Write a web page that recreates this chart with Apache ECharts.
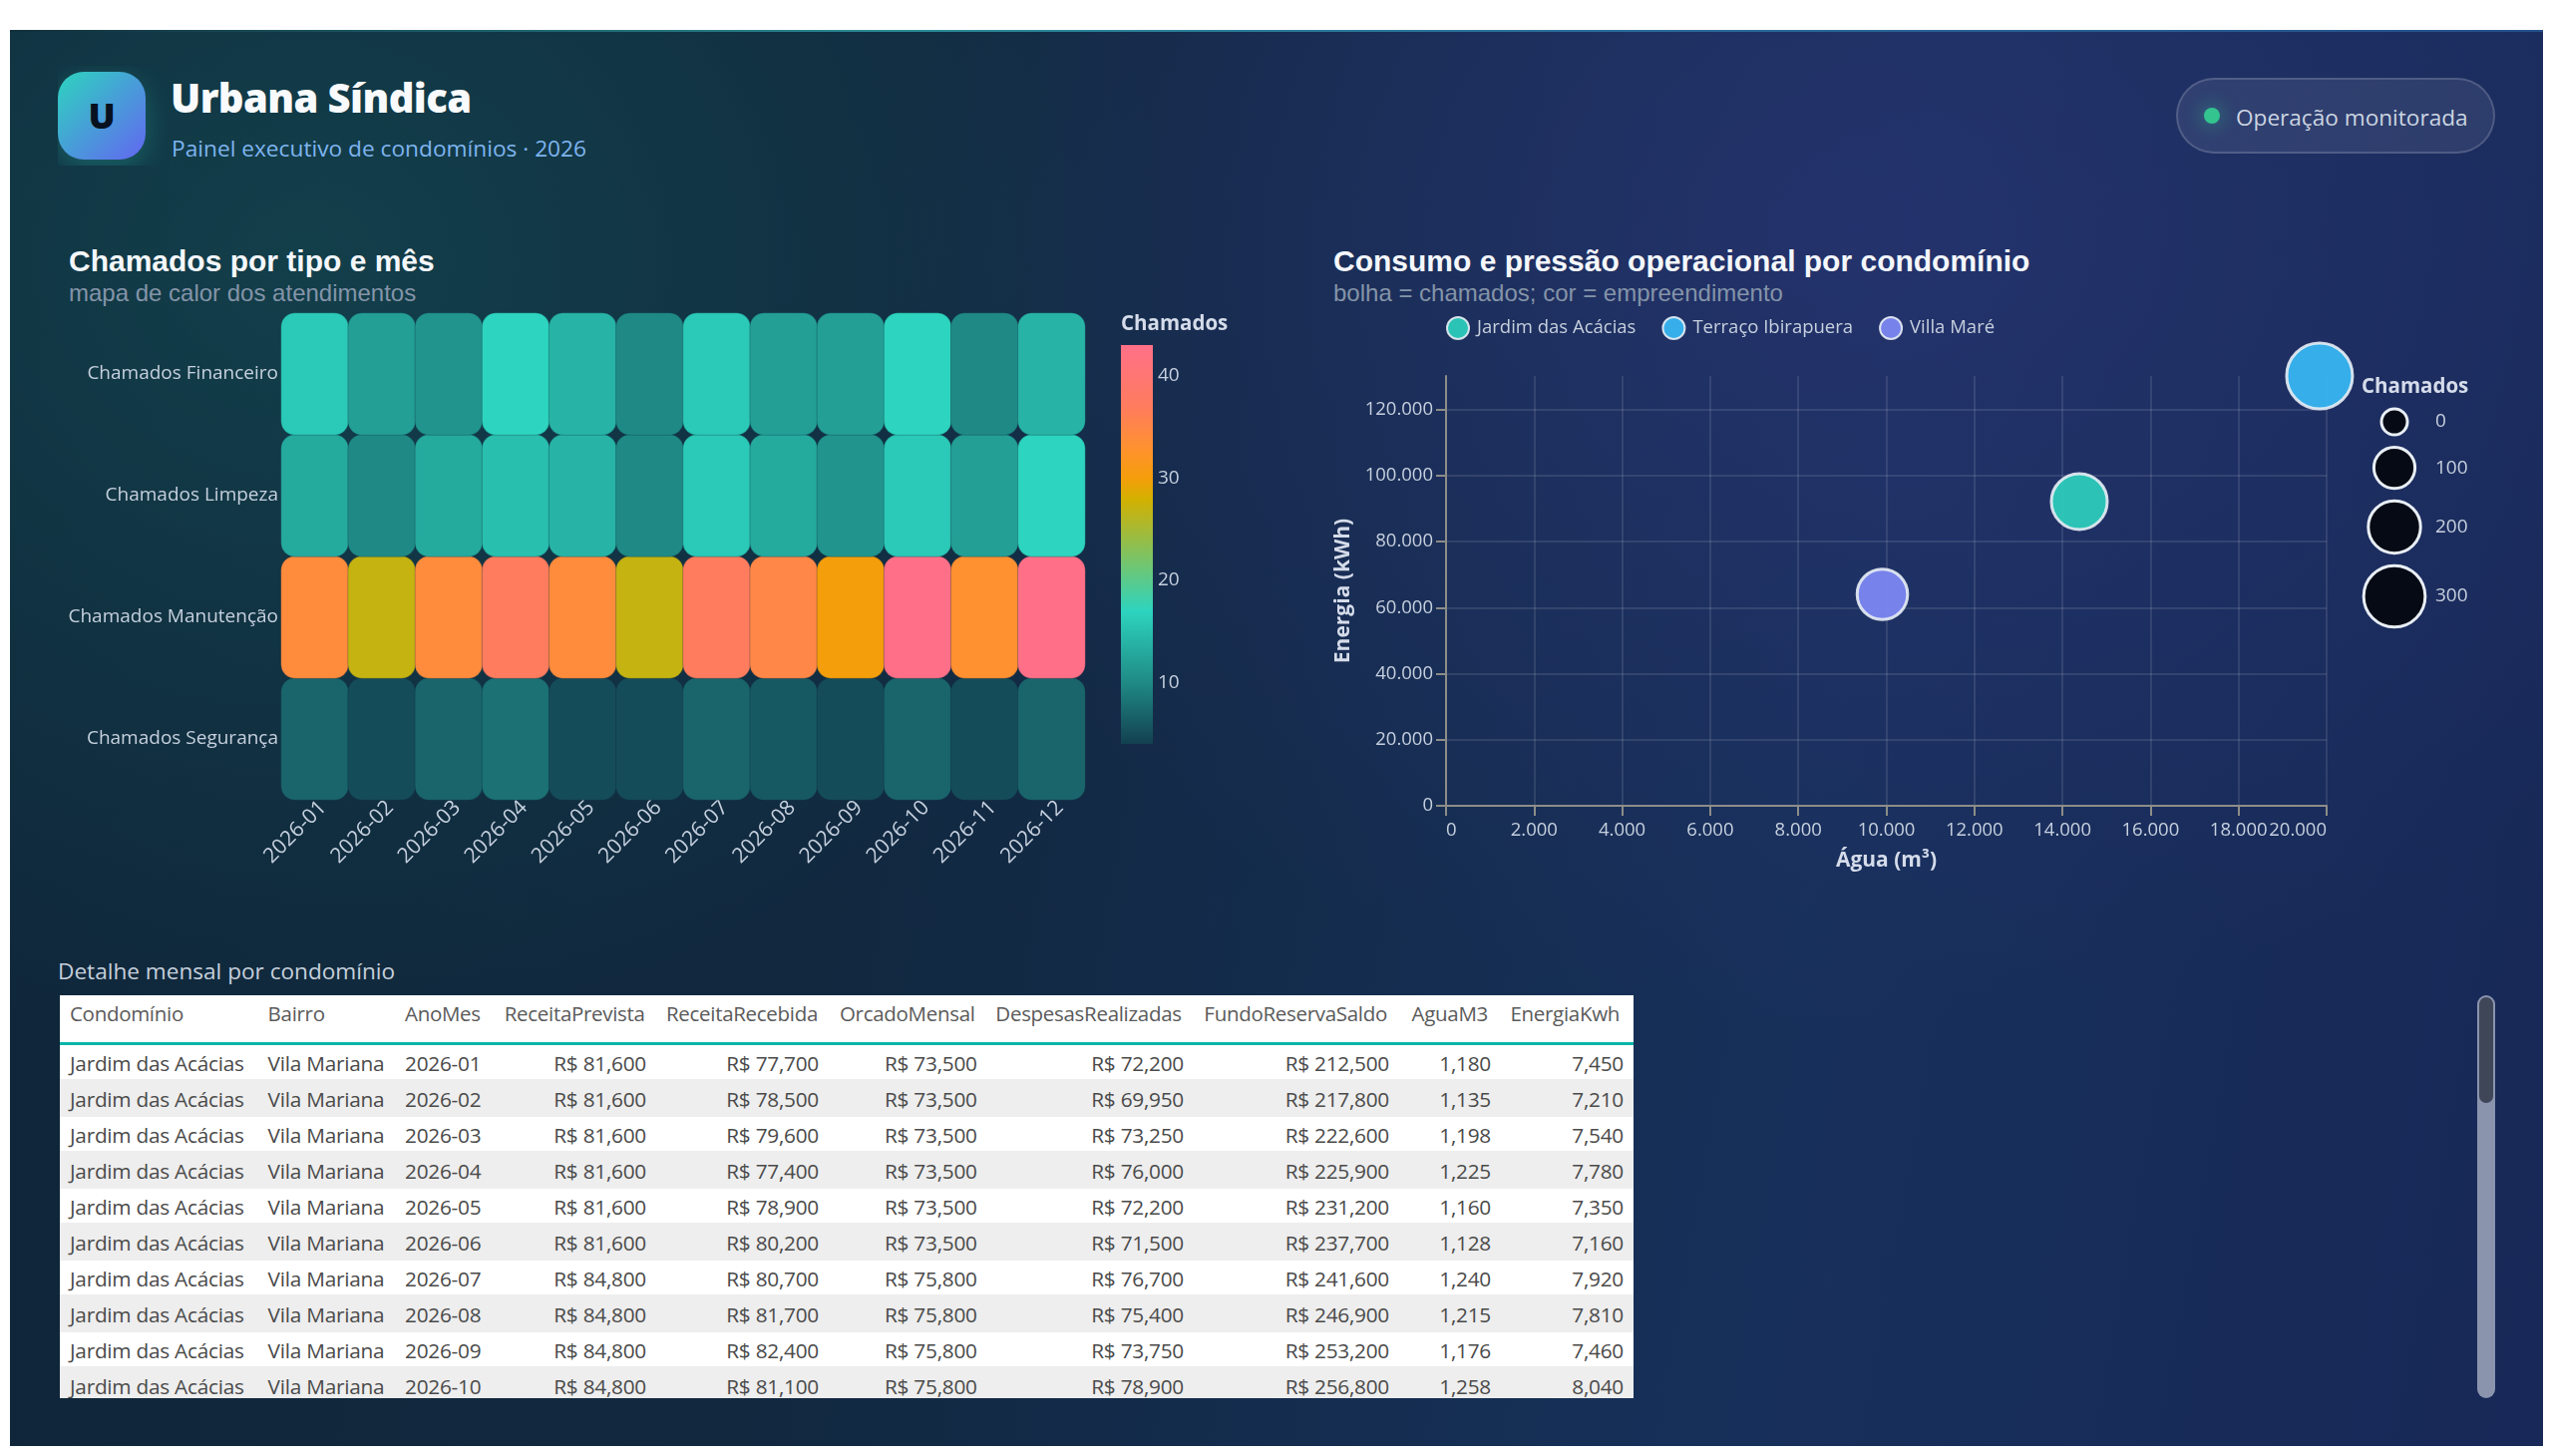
<!DOCTYPE html>
<html lang="pt-BR">
<head>
<meta charset="utf-8">
<title>Urbana Síndica</title>
<script src="https://cdn.jsdelivr.net/npm/echarts@6/dist/echarts.min.js"></script>
<style>
  html, body { margin: 0; padding: 0; background: #fff; }
  body { width: 2560px; height: 1460px; position: relative; overflow: hidden; font-family: "Open Sans", sans-serif; }
  #board { position: absolute; left: 10px; top: 30px; width: 2540px; height: 1420px; overflow: hidden;
    background:
      radial-gradient(ellipse 900px 800px at 300px 230px, rgba(20,78,84,.62), rgba(20,78,84,0) 100%),
      radial-gradient(ellipse 1000px 800px at 1850px 200px, rgba(44,52,120,.62), rgba(44,52,120,0) 100%),
      linear-gradient(100deg, #0f2639 0%, #11283f 35%, #17305a 70%, #182858 100%); }
  #accent { position: absolute; left: 0; top: 0; width: 100%; height: 2px; background: linear-gradient(90deg, #10303c 0%, #2a8a94 35%, #2a6a9a 65%, #24508a 100%); }
  .abs { position: absolute; white-space: nowrap; }
  #glow { left: 48px; top: 36px; width: 112px; height: 100px; overflow: hidden; }
  #icon { position: absolute; left: 0; top: 6px; width: 88px; height: 88px; border-radius: 26px; background: linear-gradient(135deg, #2dd4bf, #6366f1);
    box-shadow: 0 8px 28px rgba(45,212,191,.28); color: #07111f; font: 800 36px/88px "Open Sans"; text-align: center; }
  #brand { left: 161px; top: 41px; font: 800 40px/54px "Open Sans"; color: #f8fafc; letter-spacing: -.6px; }
  #sub { left: 162px; top: 101px; font: 400 22.7px/36px "Open Sans"; color: #7fb5ef; }
  #pill { left: 2172px; top: 48px; width: 316px; height: 72px; border: 2px solid rgba(255,255,255,.16); border-radius: 38px; background: rgba(255,255,255,.08); }
  #dot { position: absolute; left: 26px; top: 28px; width: 16px; height: 16px; border-radius: 50%; background: #34c48f; box-shadow: 0 0 16px 6px rgba(52,196,143,.22); }
  #pilltxt { position: absolute; left: 58px; top: 20px; font: 400 22.6px/36px "Open Sans"; color: #cbd5e1; }
  .ctitle { font: 700 30px/36px "Liberation Sans"; color: #f4f7fb; }
  .csub { font: 400 24px/30px "Liberation Sans"; color: #8494a8; }
  #chartHeat { position: absolute; left: 0; top: 280px; width: 1260px; height: 640px; }
  #chartBubble { position: absolute; left: 1260px; top: 280px; width: 1280px; height: 640px; }
  #tabletitle { left: 48px; top: 926px; font: 400 22.6px/36px "Open Sans"; color: #c6d0dc; }
  #tablebox { position: absolute; left: 50px; top: 968px; width: 1578px; height: 404px; background: #fff; overflow: hidden; }
  #tbl { position: absolute; left: 0; top: 0; }
  .c { position: absolute; font: 400 20.8px/36px "Open Sans"; color: #4a4a4a; white-space: nowrap; letter-spacing: -.25px; }
  .h { color: #5a5a5a; font-size: 20.5px; letter-spacing: -.3px; }
  .row { position: absolute; left: 0; width: 100%; height: 38px; }
  #scrolltrack { position: absolute; left: 2474px; top: 968px; width: 18px; height: 404px; border-radius: 9px; background: #8a94ad; }
  #scrollthumb { position: absolute; left: 2px; top: 2px; width: 14px; height: 106px; border-radius: 8px; background: #3e4658; }
</style>
</head>
<body>
<div id="board">
  <div id="accent"></div>
  <div class="abs" id="glow"><div id="icon">U</div></div>
  <div class="abs" id="brand">Urbana Síndica</div>
  <div class="abs" id="sub">Painel executivo de condomínios · 2026</div>
  <div class="abs" id="pill"><div id="dot"></div><div id="pilltxt">Operação monitorada</div></div>

  <div class="abs ctitle" style="left:59px;top:214px">Chamados por tipo e mês</div>
  <div class="abs csub" style="left:59px;top:249px">mapa de calor dos atendimentos</div>
  <div class="abs ctitle" style="left:1327px;top:214px">Consumo e pressão operacional por condomínio</div>
  <div class="abs csub" style="left:1327px;top:249px">bolha = chamados; cor = empreendimento</div>

  <div id="chartHeat"></div>
  <div id="chartBubble"></div>

  <div class="abs" id="tabletitle">Detalhe mensal por condomínio</div>
  <div id="tablebox"><div id="tbl"></div></div>
  <div id="scrolltrack"><div id="scrollthumb"></div></div>
</div>

<script>
// Heatmap: tickets by type and month
const months = ['2026-01','2026-02','2026-03','2026-04','2026-05','2026-06','2026-07','2026-08','2026-09','2026-10','2026-11','2026-12'];
const ticketTypes = ['Chamados Segurança','Chamados Manutenção','Chamados Limpeza','Chamados Financeiro'];
const ticketsFinanceiro = [16,12,11,17,14,10,16,12,12,17,10,14];
const ticketsLimpeza    = [13,10,13,15,14,10,16,13,11,16,12,17];
const ticketsManutencao = [34,27,34,37,34,27,37,35,30,43,33,43];
const ticketsSeguranca  = [7,5,7,8,5,5,7,6,5,7,5,7];

// Colour ramp of the heatmap: anchor values and their colours
const rampValues = [4,10,17,28,30,33,37,43];
const rampColors = ['#134050','#1f8a85','#2dd4bf','#d4b000','#f59e0b','#ff9130','#ff7c5e','#ff7088'];
const heatMin = 4, heatMax = 43;
const heatTicks = [40,30,20,10];

// Bubble chart: water, energy and tickets per condominium
const condoNames  = ['Jardim das Acácias','Terraço Ibirapuera','Villa Maré'];
const condoColors = ['#2dd4bf','#38bdf8','#818cf8'];
const condoWater  = [14383,19840,9910];
const condoEnergy = [92170,130200,64050];
const condoTickets = [237,352,182];
const sizeLegendValues = [0,100,200,300];
const energyMax = 130200;
const energyTicks = [0,20000,40000,60000,80000,100000,120000];

// Monthly detail table
const tableHeaders = ['Condomínio','Bairro','AnoMes','ReceitaPrevista','ReceitaRecebida','OrcadoMensal','DespesasRealizadas','FundoReservaSaldo','AguaM3','EnergiaKwh'];
const tableCondo   = 'Jardim das Acácias';
const tableBairro  = 'Vila Mariana';
const receitaPrevista  = [81600,81600,81600,81600,81600,81600,84800,84800,84800,84800];
const receitaRecebida  = [77700,78500,79600,77400,78900,80200,80700,81700,82400,81100];
const orcadoMensal     = [73500,73500,73500,73500,73500,73500,75800,75800,75800,75800];
const despesas         = [72200,69950,73250,76000,72200,71500,76700,75400,73750,78900];
const fundoReserva     = [212500,217800,222600,225900,231200,237700,241600,246900,253200,256800];
const aguaM3           = [1180,1135,1198,1225,1160,1128,1240,1215,1176,1258];
const energiaKwh       = [7450,7210,7540,7780,7350,7160,7920,7810,7460,8040];

const uiFont = '"Open Sans", sans-serif';
const axisText = '#c6d0de';

// Expand the anchors to one colour per integer value, since inRange colours are evenly spaced
function rampAt(v) {
  let i = 0;
  while (i < rampValues.length - 2 && v > rampValues[i + 1]) i++;
  const t = (v - rampValues[i]) / (rampValues[i + 1] - rampValues[i]);
  const a = echarts.color.parse(rampColors[i]), b = echarts.color.parse(rampColors[i + 1]);
  return 'rgb(' + [0,1,2].map(k => Math.round(a[k] + (b[k] - a[k]) * t)).join(',') + ')';
}
const heatPalette = [];
for (let v = heatMin; v <= heatMax; v++) heatPalette.push(rampAt(v));

const heatRows = [ticketsSeguranca, ticketsManutencao, ticketsLimpeza, ticketsFinanceiro];
const heatData = [];
heatRows.forEach((row, y) => row.forEach((v, x) => heatData.push([x, y, v])));

const heat = echarts.init(document.getElementById('chartHeat'));
heat.setOption({
  animation: false,
  textStyle: { fontFamily: uiFont },
  grid: { left: 272, top: 4, width: 806, height: 488 },
  xAxis: { type: 'category', data: months, axisLine: { show: false }, axisTick: { show: false }, splitLine: { show: false },
    axisLabel: { rotate: 45, interval: 0, color: axisText, fontSize: 21, margin: 13, padding: [0, -12, 0, 0], fontFamily: uiFont } },
  yAxis: { type: 'category', data: ticketTypes, axisLine: { show: false }, axisTick: { show: false }, splitLine: { show: false },
    axisLabel: { color: axisText, fontSize: 19, margin: 3, fontFamily: uiFont } },
  visualMap: { type: 'continuous', min: heatMin, max: heatMax, show: false, inRange: { color: heatPalette } },
  series: [{ type: 'heatmap', data: heatData, itemStyle: { borderRadius: 14, borderColor: 'rgba(16,40,60,.25)', borderWidth: 1 } }]
});

const bubble = echarts.init(document.getElementById('chartBubble'));
const axisStroke = { color: '#8d8d88', width: 2 };
const gridLine = { show: true, lineStyle: { color: 'rgba(255,255,255,.1)', width: 2 } };
const nameStyle = { color: '#d5dcea', fontSize: 21, fontWeight: 700, fontFamily: uiFont };
const numPt = v => String(v).replace(/\B(?=(\d{3})+(?!\d))/g, '.');
const bubbleDiameter = v => Math.sqrt(841 + 11.15 * v);

bubble.setOption({
  animation: false,
  textStyle: { fontFamily: uiFont },
  legend: { top: 2, left: 175, itemWidth: 22, itemHeight: 22, itemGap: 26, icon: 'circle',
    data: condoNames, textStyle: { color: '#c6d0de', fontSize: 18.5, fontFamily: uiFont, padding: [0, 0, 0, 3] } },
  grid: { left: 180, top: 67, width: 883, height: 431 },
  xAxis: { type: 'value', min: 0, max: 20000, interval: 2000, name: 'Água (m³)', nameLocation: 'middle', nameGap: 45, nameTextStyle: nameStyle,
    axisLine: { show: true, lineStyle: axisStroke }, axisTick: { show: true, length: 10, lineStyle: axisStroke },
    splitLine: gridLine,
    axisLabel: { color: axisText, fontSize: 18.5, margin: 15, formatter: numPt, alignMinLabel: 'left', alignMaxLabel: 'right', fontFamily: uiFont } },
  yAxis: { type: 'value', min: 0, max: energyMax, interval: 20000, name: 'Energia (kWh)', nameLocation: 'middle', nameGap: 87, nameTextStyle: nameStyle,
    axisLine: { show: true, onZero: false, lineStyle: axisStroke }, axisTick: { show: true, length: 10, lineStyle: axisStroke, customValues: energyTicks },
    splitLine: gridLine,
    axisLabel: { color: axisText, fontSize: 18.5, margin: 13, formatter: numPt, fontFamily: uiFont, customValues: energyTicks } },
  series: condoNames.map((name, i) => ({
    type: 'scatter', name, data: [[condoWater[i], condoEnergy[i], condoTickets[i]]],
    symbolSize: d => bubbleDiameter(d[2]) - 3,
    clip: false,
    itemStyle: { color: condoColors[i], opacity: .9, borderColor: '#e8eef5', borderWidth: 3 }
  }))
});

// Legends drawn beside the charts: size scale of the bubbles, colour ramp of the heatmap
(function sizeLegend() {
  const gap = 9.5, els = [];
  let y = 98.5;
  els.push({ type: 'text', left: 1098, top: 68, style: { text: 'Chamados', fill: '#d5dcea', font: '700 20.5px ' + uiFont } });
  sizeLegendValues.forEach(v => {
    const d = bubbleDiameter(v), r = (d - 3) / 2;
    y += d / 2;
    els.push({ type: 'circle', x: 1131, y: y, shape: { cx: 0, cy: 0, r: r }, style: { fill: '#050a14', stroke: '#e8eef5', lineWidth: 3 } });
    els.push({ type: 'text', x: 1172, y: y, style: { text: String(v), fill: '#c6d0de', font: '19px ' + uiFont, textVerticalAlign: 'middle' } });
    y += d / 2 + gap;
  });
  bubble.setOption({ graphic: els });
})();

(function heatLegend() {
  const top = 36, h = 400;
  const stops = rampValues.map((v, i) => ({ offset: (heatMax - v) / (heatMax - heatMin), color: rampColors[i] })).reverse();
  const els = [
    { type: 'text', left: 1114, top: 5, style: { text: 'Chamados', fill: '#d5dcea', font: '700 20.5px ' + uiFont } },
    { type: 'rect', x: 1114, y: top, shape: { x: 0, y: 0, width: 32, height: h },
      style: { fill: new echarts.graphic.LinearGradient(0, 0, 0, 1, stops) } }
  ];
  heatTicks.forEach(t => {
    const y = top + h * (heatMax - t) / (heatMax - heatMin);
    els.push({ type: 'text', x: 1151, y: y, style: { text: String(t), fill: '#c6d0de', font: '19px ' + uiFont, textVerticalAlign: 'middle' } });
  });
  heat.setOption({ graphic: els });
})();

// Detail table
const money = v => 'R$ ' + v.toLocaleString('en-US');
const plain = v => v.toLocaleString('en-US');
const colDefs = [
  { l: 10 }, { l: 208.6 }, { l: 346 }, { r: 588 }, { r: 761 }, { r: 919.7 }, { r: 1127 }, { r: 1333 }, { r: 1435 }, { r: 1568 }
];
const headerDefs = [
  { l: 10 }, { l: 208.6 }, { l: 346 }, { r: 586.7 }, { r: 760 }, { r: 917.6 }, { r: 1124.7 }, { r: 1331 }, { r: 1432 }, { r: 1564 }
];
const tbl = document.getElementById('tbl');
function cell(text, def, y, cls) {
  const d = document.createElement('div');
  d.className = 'c' + (cls ? ' ' + cls : '');
  d.textContent = text;
  d.style.top = y + 'px';
  if (def.l !== undefined) d.style.left = def.l + 'px';
  else d.style.right = (1578 - def.r) + 'px';
  return d;
}
tbl.style.width = '1578px'; tbl.style.height = '404px';
tableHeaders.forEach((h, i) => tbl.appendChild(cell(h, headerDefs[i], 0, 'h')));
const rule = document.createElement('div');
rule.style.cssText = 'position:absolute;left:0;top:47px;width:1578px;height:3px;background:#08b5a8';
tbl.appendChild(rule);
months.slice(0, 10).forEach((m, i) => {
  const y = 50 + i * 36;
  if (i % 2 === 1) {
    const r = document.createElement('div');
    r.className = 'row';
    r.style.cssText += ';top:' + (y - 2) + 'px;background:#eeeeee;';
    tbl.appendChild(r);
  }
  const vals = [tableCondo, tableBairro, m, money(receitaPrevista[i]), money(receitaRecebida[i]), money(orcadoMensal[i]),
    money(despesas[i]), money(fundoReserva[i]), plain(aguaM3[i]), plain(energiaKwh[i])];
  vals.forEach((t, c) => tbl.appendChild(cell(t, colDefs[c], y, '')));
});
</script>
</body>
</html>
